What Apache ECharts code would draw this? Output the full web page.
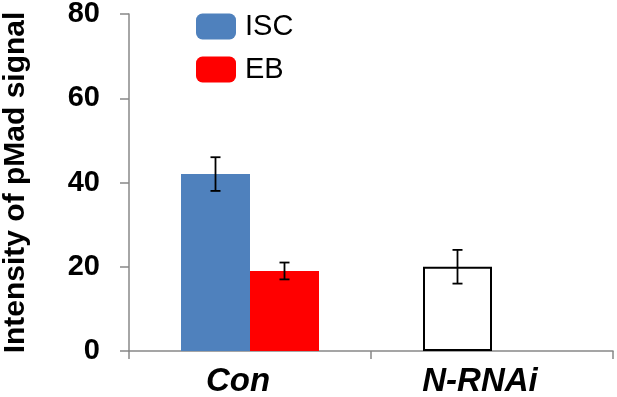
<!DOCTYPE html>
<html>
<head>
<meta charset="utf-8">
<script src="https://cdn.jsdelivr.net/npm/echarts@6/dist/echarts.min.js"></script>
<style>
  html, body { margin: 0; padding: 0; background: #fff; }
  #chart { width: 617px; height: 397px; }
</style>
</head>
<body>
<div id="chart"></div>
<script>
const categories = ["Con", "N-RNAi"];
const iscValues = [42, 20];
const ebValues = [19, null];
const iscErrors = [4, 4];
const ebErrors = [2, null];
const yTicks = [0, 20, 40, 60, 80];

const BAR_W = 69;
const FONT = "'Liberation Sans', Arial, sans-serif";

const chart = echarts.init(document.getElementById("chart"));

// error bar items: [category index, value, error, side (-1 left bar, +1 right bar)]
const errData = [];
iscValues.forEach((v, i) => {
  if (v != null) errData.push([i, v, iscErrors[i], -1]);
});
ebValues.forEach((v, i) => {
  if (v != null) errData.push([i, v, ebErrors[i], 1]);
});

const renderErr = (params, api) => {
  const x = api.value(0);
  const v = api.value(1);
  const e = api.value(2);
  const side = api.value(3);
  const top = api.coord([x, v + e]);
  const bot = api.coord([x, v - e]);
  const cx = top[0] + side * BAR_W / 2;
  const cap = 5;
  const style = { stroke: "#000", lineWidth: 1.8 };
  return {
    type: "group",
    children: [
      { type: "line", shape: { x1: cx, y1: top[1], x2: cx, y2: bot[1] }, style },
      { type: "line", shape: { x1: cx - cap, y1: top[1], x2: cx + cap, y2: top[1] }, style },
      { type: "line", shape: { x1: cx - cap, y1: bot[1], x2: cx + cap, y2: bot[1] }, style },
    ],
  };
};

const option = {
  animation: false,
  textStyle: { fontFamily: FONT },
  grid: { left: 129, right: 4, top: 14, bottom: 46, containLabel: false, outerBoundsMode: "none" },
  legend: {
    orient: "vertical",
    left: 191,
    top: 7,
    itemWidth: 40,
    itemHeight: 26,
    itemGap: 14,
    data: ["ISC", "EB"],
    textStyle: { fontSize: 29, color: "#000", fontFamily: FONT, lineHeight: 26, padding: [0, 0, 0, 4] },
  },
  xAxis: {
    type: "category",
    data: categories,
    axisLine: { lineStyle: { color: "#888", width: 1.5 } },
    axisTick: { show: true, length: 8, lineStyle: { color: "#888", width: 1.5 } },
    axisLabel: {
      fontSize: 33,
      fontWeight: "bold",
      fontStyle: "italic",
      color: "#000",
      margin: 14,
      padding: [0, 24, 0, 0],
    },
  },
  yAxis: {
    type: "value",
    min: 0,
    max: 80,
    interval: 20,
    name: "Intensity of pMad signal",
    nameLocation: "middle",
    nameRotate: 90,
    nameGap: 98,
    nameTextStyle: { fontSize: 30, fontWeight: "bold", color: "#000" },
    axisLine: { show: true, lineStyle: { color: "#888", width: 1.5 } },
    axisTick: { show: true, length: 9, lineStyle: { color: "#888", width: 1.5 } },
    splitLine: { show: false },
    axisLabel: {
      fontSize: 29,
      fontWeight: "bold",
      color: "#000",
      margin: 29,
      formatter: (v) => (yTicks.includes(v) ? String(v) : ""),
    },
  },
  series: [
    {
      name: "ISC",
      type: "bar",
      barWidth: BAR_W,
      barGap: "0%",
      itemStyle: { color: "#4f81bd" },
      data: iscValues.map((v, i) =>
        i === 1
          ? { value: v, itemStyle: { color: "#fff", borderColor: "#000", borderWidth: 2 } }
          : v
      ),
    },
    {
      name: "EB",
      type: "bar",
      barWidth: BAR_W,
      barGap: "0%",
      itemStyle: { color: "#ff0000" },
      data: ebValues,
    },
    {
      type: "custom",
      renderItem: renderErr,
      data: errData,
      encode: { x: 0, y: 1 },
      z: 10,
    },
  ],
};

chart.setOption(option);
</script>
</body>
</html>
